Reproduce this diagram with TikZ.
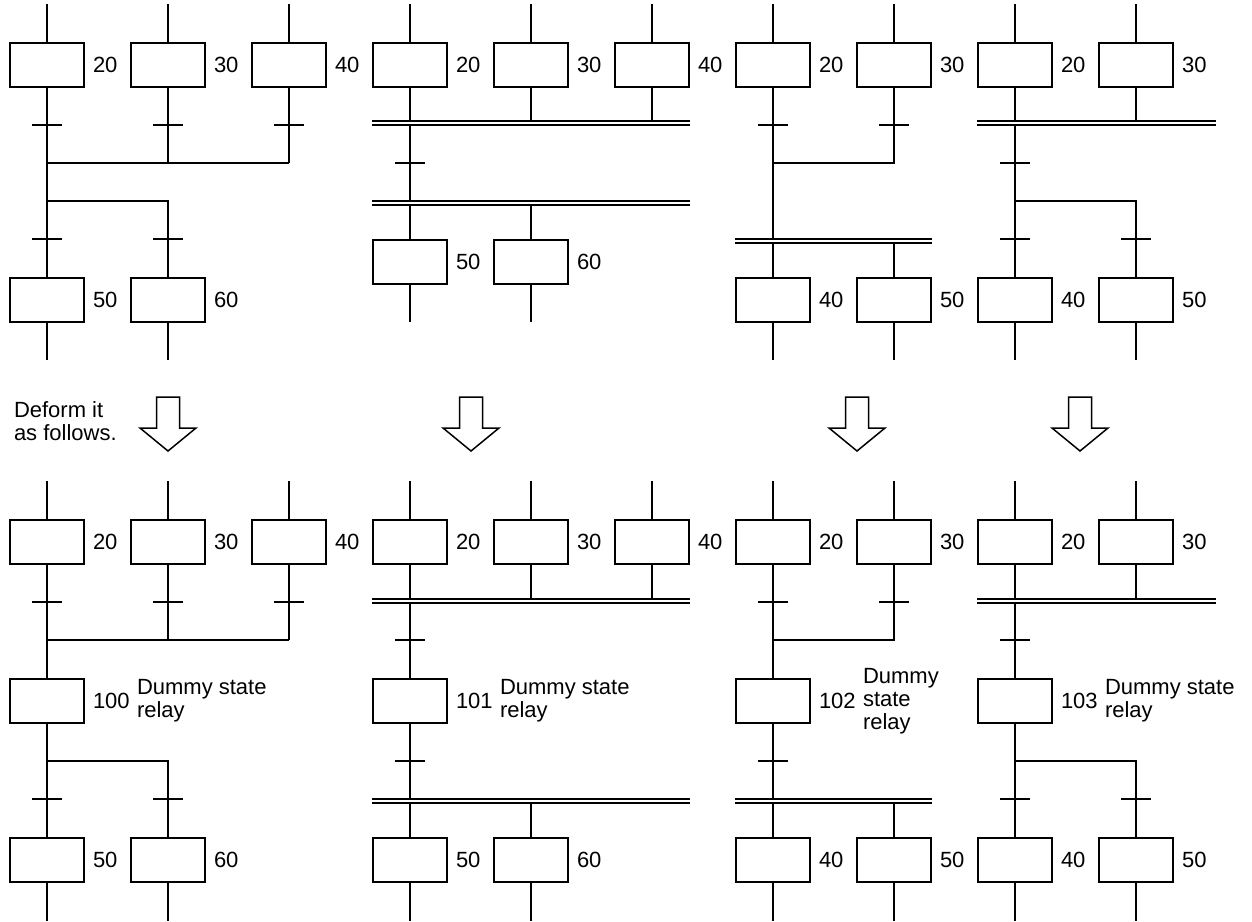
\documentclass[tikz,border=0pt]{standalone}
\usepackage{fontspec}
\setmainfont{Liberation Sans}
\usepackage{tikz}
\usetikzlibrary{positioning}
\newcommand{\sfcfont}{\fontsize{11}{11.5}\selectfont}
\newcommand{\transbar}[1]{\draw #1 ++(-15,0) -- ++(30,0);}

\begin{document}
\begin{tikzpicture}[
      x=0.5pt, y=-0.5pt, line width=1pt,
      stepbox/.style={draw, minimum width=37pt, minimum height=22pt, inner sep=0pt},
      stepno/.style={inner sep=0pt, font=\sfcfont, right=3.5pt of #1},
      dummy/.style={inner sep=0pt, font=\sfcfont, align=left, right=25.5pt of #1},
      sync/.style={double, double distance=1pt},
      deform/.style={line width=0.75pt}
    ]
    \useasboundingbox (0,0) rectangle (1252,921);

    % steps entering each chart
    \foreach \p/\n/\x in {A/20/47,A/30/168,A/40/289,B/20/410,B/30/531,B/40/652,C/20/773,C/30/894,D/20/1015,D/30/1136} {
      \node[stepbox] (\p\n) at (\x,65) {};
      \node[stepno=\p\n] (\p\n l) {\n};
      \coordinate (\p\n in) at (\x,4);
      \draw (\p\n in) -- (\p\n);
    }
    \foreach \p/\n/\x in {E/20/47,E/30/168,E/40/289,F/20/410,F/30/531,F/40/652,G/20/773,G/30/894,H/20/1015,H/30/1136} {
      \node[stepbox] (\p\n) at (\x,542) {};
      \node[stepno=\p\n] (\p\n l) {\n};
      \coordinate (\p\n in) at (\x,481);
      \draw (\p\n in) -- (\p\n);
    }
    % steps leaving each chart
    \foreach \p/\n/\x/\y in {A/50/47/299.5,A/60/168/299.5,B/50/410/261.5,B/60/531/261.5,C/40/773/299.5,C/50/894/299.5,D/40/1015/299.5,D/50/1136/299.5,
                             E/50/47/860,E/60/168/860,F/50/410/860,F/60/531/860,G/40/773/860,G/50/894/860,H/40/1015/860,H/50/1136/860} {
      \node[stepbox] (\p\n) at (\x,\y) {};
      \node[stepno=\p\n] (\p\n l) {\n};
      \coordinate (\p\n out) at (\x,\y+60.5);
      \draw (\p\n) -- (\p\n out);
    }
    % dummy state relays
    \foreach \p/\n/\x in {E/100/47,F/101/410,G/102/773,H/103/1015} {
      \node[stepbox] (\p\n) at (\x,701) {};
      \node[stepno=\p\n] (\p\n l) {\n};
    }
    \node[dummy=E100] (E100d) {Dummy state\\relay};
    \node[dummy=F101] (F101d) {Dummy state\\relay};
    \node[dummy=G102] (G102d) {Dummy\\state\\relay};
    \node[dummy=H103] (H103d) {Dummy state\\relay};

    % chart A
    \coordinate (Amerge) at (47,163);
    \coordinate (Abranch) at (47,201);
    \foreach \n in {20,30,40} { \draw (A\n) -- (A\n |- Amerge); \transbar{(A\n |- 0,125)} }
    \draw (A20 |- Amerge) -- (A40 |- Amerge);
    \draw (A20) -- (A50);
    \draw (Abranch) -| (A60);
    \transbar{(A50 |- 0,239)} \transbar{(A60 |- 0,239)}

    % chart B
    \coordinate (Bsync1) at (372,123); \coordinate (Bsync1e) at (690,123);
    \coordinate (Bsync2) at (372,202.5); \coordinate (Bsync2e) at (690,202.5);
    \draw (B20) -- (B50);
    \draw (B30) -- (B30 |- Bsync1);
    \draw (B40) -- (B40 |- Bsync1);
    \draw (B60 |- Bsync2) -- (B60);
    \transbar{(B20 |- 0,163)}
    \draw[sync] (Bsync1) -- (Bsync1e);
    \draw[sync] (Bsync2) -- (Bsync2e);

    % chart C
    \coordinate (Cmerge) at (773,163);
    \coordinate (Csync) at (735,241); \coordinate (Csynce) at (932,241);
    \draw (C20) -- (C40);
    \draw (C30) |- (Cmerge);
    \transbar{(C20 |- 0,125)} \transbar{(C30 |- 0,125)}
    \draw (C50 |- Csync) -- (C50);
    \draw[sync] (Csync) -- (Csynce);

    % chart D
    \coordinate (Dsync) at (977,123); \coordinate (Dsynce) at (1216,123);
    \coordinate (Dbranch) at (1015,201);
    \draw (D20) -- (D40);
    \draw (D30) -- (D30 |- Dsync);
    \draw (Dbranch) -| (D50);
    \transbar{(D20 |- 0,163)} \transbar{(D40 |- 0,239)} \transbar{(D50 |- 0,239)}
    \draw[sync] (Dsync) -- (Dsynce);

    % chart E
    \coordinate (Emerge) at (47,640);
    \coordinate (Ebranch) at (47,761);
    \foreach \n in {20,30,40} { \draw (E\n) -- (E\n |- Emerge); \transbar{(E\n |- 0,602)} }
    \draw (E20 |- Emerge) -- (E40 |- Emerge);
    \draw (E20) -- (E100);
    \draw (E100) -- (E50);
    \draw (Ebranch) -| (E60);
    \transbar{(E50 |- 0,799)} \transbar{(E60 |- 0,799)}

    % chart F
    \coordinate (Fsync1) at (372,601); \coordinate (Fsync1e) at (690,601);
    \coordinate (Fsync2) at (372,801); \coordinate (Fsync2e) at (690,801);
    \draw (F20) -- (F101);
    \draw (F101) -- (F50);
    \draw (F30) -- (F30 |- Fsync1);
    \draw (F40) -- (F40 |- Fsync1);
    \draw (F60 |- Fsync2) -- (F60);
    \transbar{(F20 |- 0,640)} \transbar{(F20 |- 0,761)}
    \draw[sync] (Fsync1) -- (Fsync1e);
    \draw[sync] (Fsync2) -- (Fsync2e);

    % chart G
    \coordinate (Gmerge) at (773,640);
    \coordinate (Gsync) at (735,801); \coordinate (Gsynce) at (932,801);
    \draw (G20) -- (G102);
    \draw (G102) -- (G40);
    \draw (G30) |- (Gmerge);
    \transbar{(G20 |- 0,602)} \transbar{(G30 |- 0,602)} \transbar{(G20 |- 0,761)}
    \draw (G50 |- Gsync) -- (G50);
    \draw[sync] (Gsync) -- (Gsynce);

    % chart H
    \coordinate (Hsync) at (977,601); \coordinate (Hsynce) at (1216,601);
    \coordinate (Hbranch) at (1015,761);
    \draw (H20) -- (H103);
    \draw (H103) -- (H40);
    \draw (H30) -- (H30 |- Hsync);
    \draw (Hbranch) -| (H50);
    \transbar{(H20 |- 0,640)} \transbar{(H40 |- 0,799)} \transbar{(H50 |- 0,799)}
    \draw[sync] (Hsync) -- (Hsynce);

    % deform arrows
    \node[font=\sfcfont, align=left, inner sep=0pt, anchor=west] (deform) at (13,421) {Deform it\\as follows.};
    \foreach \x in {168,471,857,1080}
      \draw[deform] (\x-11.5,397) -- ++(23,0) -- ++(0,31) -- ++(16.5,0) -- (\x,451) -- (\x-28,428) -- ++(16.5,0) -- cycle;
  \end{tikzpicture}
\end{document}
